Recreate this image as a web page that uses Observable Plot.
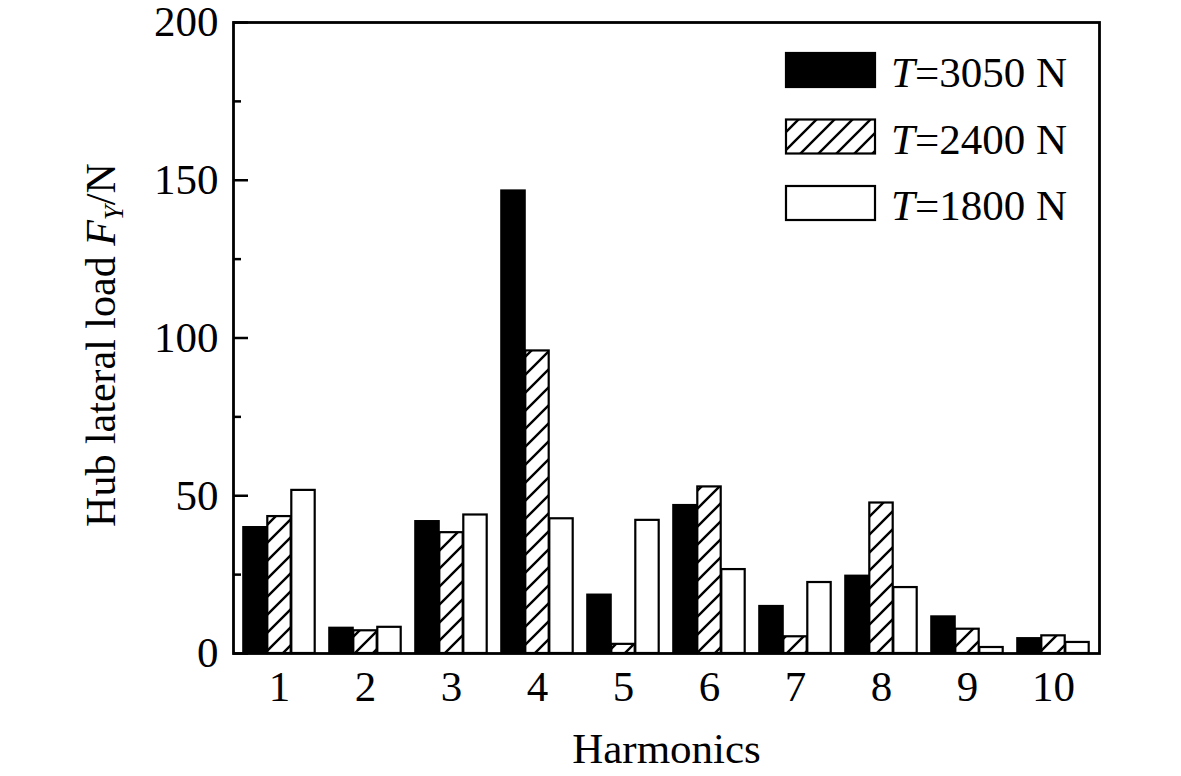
<!DOCTYPE html>
<html><head><meta charset="utf-8">
<script src="https://cdn.jsdelivr.net/npm/d3@7"></script>
<script src="https://cdn.jsdelivr.net/npm/@observablehq/plot@0.6"></script>
<style>
body{margin:0;background:#fff;}
#chart{position:relative;width:1181px;height:776px;}
</style>
</head><body><div id="chart"></div>
<script>
// ---- data ----
const harmonics = [1, 2, 3, 4, 5, 6, 7, 8, 9, 10];
const seriesNames = ["3050", "2400", "1800"];
const t3050 = [39.9, 8.0, 41.8, 146.6, 18.5, 46.9, 14.9, 24.5, 11.6, 4.7];
const t2400 = [43.4, 7.2, 38.3, 95.9, 2.9, 52.8, 5.3, 47.7, 7.7, 5.6];
const t1800 = [51.7, 8.3, 43.9, 42.7, 42.2, 26.6, 22.5, 20.9, 1.9, 3.5];
const yTicks = [0, 50, 100, 150, 200];
const yMinorTicks = [25, 75, 125, 175];

const values = {"3050": t3050, "2400": t2400, "1800": t1800};
const rows = seriesNames.flatMap(s => harmonics.map((h, i) => ({harmonic: h, series: s, value: values[s][i]})));

// ---- layout ----
const W = 1181, H = 776, mL = 233, mR = 82, mT = 22, mB = 123;
const step = (W - mL - mR) / harmonics.length;
const outer = 7.3;
const bw = (step - 2 * outer) / 3;
const fills = {"3050": "black", "2400": "url(#hatch)", "1800": "white"};
const FONT = "'Liberation Serif', 'Times New Roman', serif";

const defs = () => {
  const d = d3.create("svg:defs");
  const p = d.append("pattern").attr("id", "hatch").attr("patternUnits", "userSpaceOnUse")
    .attr("width", 18).attr("height", 18);
  p.append("rect").attr("width", 18).attr("height", 18).attr("fill", "white");
  p.append("path").attr("d", "M-4.5,4.5L4.5,-4.5M0,18L18,0M13.5,22.5L22.5,13.5")
    .attr("stroke", "black").attr("stroke-width", 2.4);
  return d.node();
};

const bars = seriesNames.map((s, k) => Plot.barY(rows.filter(d => d.series === s), {
  x: "harmonic", y: "value", fill: fills[s], stroke: "black", strokeWidth: 2.2,
  insetLeft: outer + k * bw, insetRight: step - outer - (k + 1) * bw
}));

const plot = Plot.plot({
  width: W, height: H,
  marginLeft: mL, marginRight: mR, marginTop: mT, marginBottom: mB,
  style: {fontFamily: FONT, fontSize: "43px", color: "black", background: "white", overflow: "visible"},
  x: {type: "band", domain: harmonics, padding: 0},
  y: {domain: [0, 200]},
  marks: [
    defs,
    ...bars,
    Plot.axisX({tickSize: 0, tickPadding: 17, fontSize: 43, label: null}),
    Plot.axisY({ticks: yTicks, tickSize: 0, tickPadding: 15, fontSize: 43, label: null}),
    Plot.axisY({ticks: yTicks, tickSize: 15, dx: 15, fill: "none", strokeWidth: 2.5, label: null}),
    Plot.axisY({ticks: yMinorTicks, tickSize: 8, dx: 8, fill: "none", strokeWidth: 2.5, label: null}),
    Plot.frame({stroke: "black", strokeWidth: 2.8}),
    Plot.text(["Harmonics"], {frameAnchor: "bottom", lineAnchor: "bottom", dy: 109, fontSize: 43, fill: "black"})
  ]
});

document.getElementById("chart").appendChild(plot);

// y-axis label with italic F and subscript Y
const svg = d3.select(plot);
const yl = svg.append("text")
  .attr("transform", "translate(115,345) rotate(-90)")
  .attr("text-anchor", "middle").attr("font-size", 42).attr("font-family", FONT).attr("fill", "black");
yl.append("tspan").text("Hub lateral load ");
yl.append("tspan").attr("font-style", "italic").text("F");
yl.append("tspan").attr("font-style", "italic").attr("font-size", 27).attr("dy", 8).text("Y");
yl.append("tspan").attr("dy", -8).text("/N");

// legend
const lg = svg.append("g").attr("font-family", FONT).attr("font-size", 43).attr("fill", "black")
  .attr("text-anchor", "start");
seriesNames.forEach((s, k) => {
  const top = 53 + k * 66.5;
  lg.append("rect").attr("x", 786).attr("y", top).attr("width", 89).attr("height", 34)
    .attr("fill", fills[s]).attr("stroke", "black").attr("stroke-width", 2.2);
  const t = lg.append("text").attr("x", 891).attr("y", top + 34).attr("text-anchor", "start");
  t.append("tspan").attr("font-style", "italic").text("T");
  t.append("tspan").text("=" + s + " N");
});
</script>
</body></html>
